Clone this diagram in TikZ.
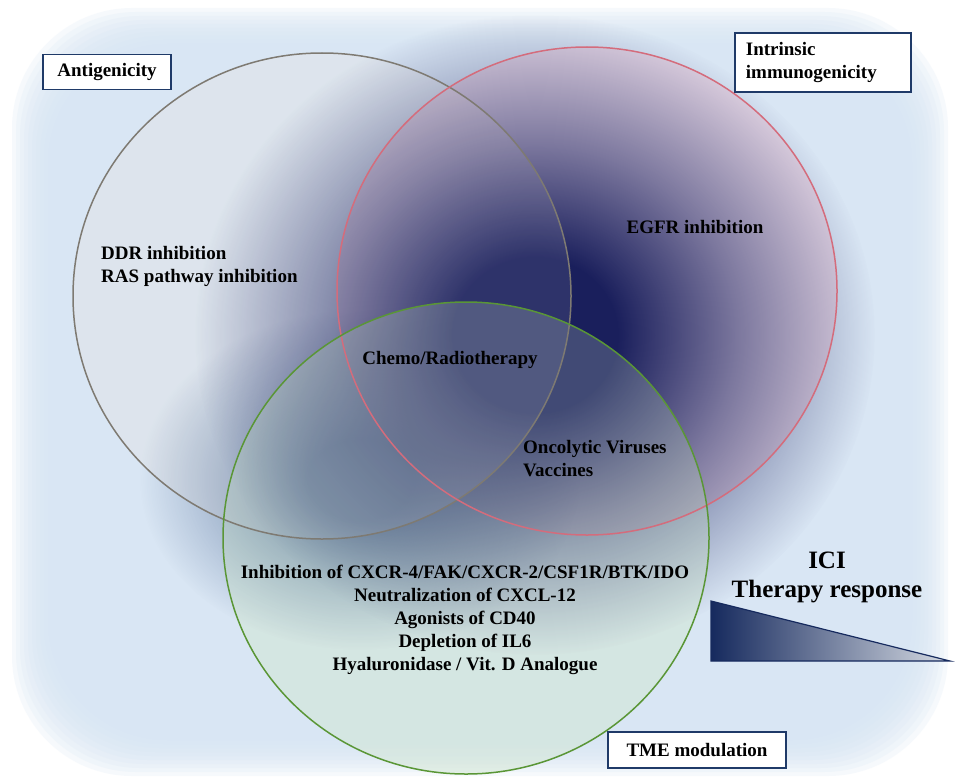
\documentclass[tikz,border=0pt]{standalone}
\usepackage{fontspec}
\setmainfont{Liberation Serif}
\usetikzlibrary{fadings}
\definecolor{bgblue}{HTML}{D6E5F4}
\definecolor{navy}{HTML}{1A1F5C}
\definecolor{deepblue}{HTML}{1F3F72}
\definecolor{boxblue}{HTML}{1F3A68}
\definecolor{ringgray}{HTML}{7E7A72}
\definecolor{ringpink}{HTML}{D46C7C}
\definecolor{ringgreen}{HTML}{5A9636}
\definecolor{tintgray}{HTML}{E2E4E8}
\definecolor{tintpink}{HTML}{E8C8D8}
\definecolor{tintgreen}{HTML}{D0E6CE}
\definecolor{wedgedark}{HTML}{162A5E}
\definecolor{wedgelight}{HTML}{D5DAE2}
\pgfdeclareradialshading{coreshade}{\pgfpointorigin}{color(0bp)=(white); color(6bp)=(white); color(15bp)=(white!50!black); color(25bp)=(black); color(50bp)=(black)}
\pgfdeclarefading{corefade}{\pgfuseshading{coreshade}}
\tikzset{
	itemtext/.style={font=\bfseries\fontsize{19}{23}\selectfont, inner sep=0pt},
	titlebox/.style={draw=boxblue, line width=1.8pt, fill=white, inner sep=0pt, font=\bfseries\fontsize{19}{23}\selectfont},
	ring/.style={line width=1.5pt},
}
\begin{document}
\begin{tikzpicture}[x=1pt,y=-1pt]
	\useasboundingbox (0,0) rectangle (960,781);
	\clip (0,0) rectangle (960,781);
	\fill[white] (0,0) rectangle (960,781);
	\foreach \i in {0,...,9}{
		\fill[bgblue, opacity=.2, rounded corners=120pt] ({12+4*\i},{8+4*\i}) rectangle ({948-4*\i},{776-4*\i});
	}
	% the three sets
	\fill[tintgray, opacity=.45] (322,296) ellipse [x radius=249, y radius=243];
	\fill[tintpink, opacity=.6] (587,291) ellipse [x radius=250, y radius=244];
	\fill[tintgreen, opacity=.3] (466,538) ellipse [x radius=243, y radius=236];
	% dark core
	\fill[deepblue, opacity=.6, path fading=corefade] (360,480) ellipse [x radius=220, y radius=170];
	\fill[navy, path fading=corefade] (535,335) ellipse [x radius=340, y radius=320];
	\fill[tintgreen, opacity=.22] (466,538) ellipse [x radius=243, y radius=236];
	\fill[tintgray, opacity=.1] (322,296) ellipse [x radius=249, y radius=243];
	\draw[ring, ringgray] (322,296) ellipse [x radius=249, y radius=243];
	\draw[ring, ringpink] (587,291) ellipse [x radius=250, y radius=244];
	\draw[ring, ringgreen] (466,538) ellipse [x radius=243, y radius=236];
	% set titles
	\node[titlebox, minimum width=128pt, minimum height=35pt] (antigen) at (107,72) {Antigenicity};
	\node[titlebox, anchor=north west, text width=154pt, align=left, inner xsep=11pt, minimum height=59pt] (intrinsic) at (734,32) {Intrinsic\\immunogenicity};
	\node[titlebox, minimum width=178pt, minimum height=36pt] (tme) at (697,750) {TME modulation};
	% set contents
	\node[itemtext, anchor=mid west] (ddr) at (101,257) {DDR inhibition};
	\node[itemtext, anchor=mid west] (ras) at (101,280) {RAS pathway inhibition};
	\node[itemtext] (egfr) at (695,227) {EGFR inhibition};
	\node[itemtext] (chemo) at (450,360) {Chemo/Radiotherapy};
	\node[itemtext, anchor=mid west] (onco) at (523,451) {Oncolytic Viruses};
	\node[itemtext, anchor=mid west] (vacc) at (523,474) {Vaccines};
	\node[itemtext, align=center] (tmelist) at (465,620) {Inhibition of CXCR-4/FAK/CXCR-2/CSF1R/BTK/IDO\\Neutralization of CXCL-12\\Agonists of CD40\\Depletion of IL6\\Hyaluronidase / Vit. D Analogue};
	% response wedge
	\node[font=\bfseries\fontsize{25}{30}\selectfont, inner sep=0pt] (ici) at (827,560) {ICI};
	\node[font=\bfseries\fontsize{25}{30}\selectfont, inner sep=0pt] (resp) at (827,592) {Therapy response};
	\shade[left color=wedgedark, right color=wedgelight] (711,601) -- (711,661) -- (950,661) -- cycle;
	\draw[wedgedark, line width=1.2pt] (711,601) -- (711,661) -- (950,661) -- cycle;
\end{tikzpicture}
\end{document}
